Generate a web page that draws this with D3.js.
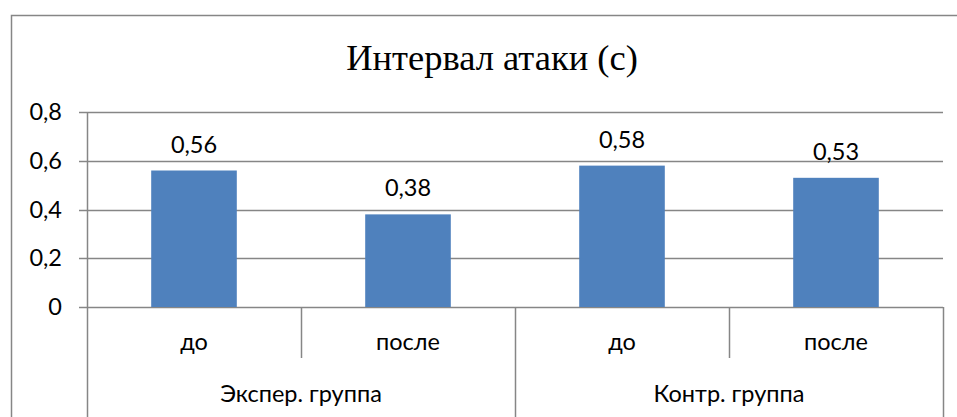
<!DOCTYPE html>
<html lang="ru">
<head>
  <meta charset="UTF-8" />
  <title>Интервал атаки (с)</title>
  <script src="https://d3js.org/d3.v7.min.js"></script>
  <style>
    body { margin: 0; background: #fff; }
    svg { display: block; }
    .tick-label, .val, .cat, .grp { font-family: Lato, "Open Sans", sans-serif; font-size: 23.5px; fill: #000; }
    .title { font-family: "Liberation Serif", "Times New Roman", serif; font-size: 36.5px; fill: #000; }
  </style>
</head>
<body>
<svg width="957" height="417"></svg>
<script>
// data
const groups = ["Экспер. группа", "Контр. группа"];
const phases = ["до", "после"];
const values = [0.56, 0.38, 0.58, 0.53];
const valueLabels = ["0,56", "0,38", "0,58", "0,53"];
const yTicks = [0, 0.2, 0.4, 0.6, 0.8];
const yTickLabels = ["0", "0,2", "0,4", "0,6", "0,8"];

const svg = d3.select("svg");
const grid = "#868686";

// chart frame (extends past right and bottom edge)
svg.append("rect")
  .attr("x", 11.5).attr("y", 15.5)
  .attr("width", 1000).attr("height", 500)
  .attr("fill", "none").attr("stroke", grid).attr("stroke-width", 1.5);

svg.append("text").attr("class", "title")
  .attr("x", 492).attr("y", 70)
  .attr("text-anchor", "middle")
  .text("Интервал атаки (с)");

const pLeft = 87, pRight = 943, pTop = 112, pBottom = 307;

const cats = [];
groups.forEach(g => phases.forEach(p => cats.push(g + "|" + p)));

const x = d3.scaleBand().domain(cats).range([pLeft, pRight]).paddingInner(0);
const y = d3.scaleLinear().domain([0, 0.8]).range([pBottom, pTop]);

// gridlines + y ticks
svg.append("g").selectAll("line")
  .data(yTicks).enter().append("line")
  .attr("x1", pLeft - 8).attr("x2", pRight)
  .attr("y1", d => Math.round(y(d)) + 0.5).attr("y2", d => Math.round(y(d)) + 0.5)
  .attr("stroke", grid).attr("stroke-width", 1.5);

svg.append("g").selectAll("text")
  .data(yTicks).enter().append("text")
  .attr("class", "tick-label")
  .attr("x", 62).attr("y", d => y(d) + 8)
  .attr("text-anchor", "end")
  .text((d, i) => yTickLabels[i]);

// y axis line
svg.append("line")
  .attr("x1", pLeft + 0.5).attr("x2", pLeft + 0.5)
  .attr("y1", pTop).attr("y2", 417)
  .attr("stroke", grid).attr("stroke-width", 1.5);

// bars
const bw = x.bandwidth() * 0.4;
svg.append("g").selectAll("rect")
  .data(values).enter().append("rect")
  .attr("x", (d, i) => x(cats[i]) + (x.bandwidth() - bw) / 2)
  .attr("width", bw)
  .attr("y", d => y(d))
  .attr("height", d => pBottom - y(d))
  .attr("fill", "#4F81BD");

svg.append("g").selectAll("text")
  .data(values).enter().append("text")
  .attr("class", "val")
  .attr("x", (d, i) => x(cats[i]) + x.bandwidth() / 2)
  .attr("y", d => y(d) - 18)
  .attr("text-anchor", "middle")
  .text((d, i) => valueLabels[i]);

// category separators
cats.forEach((c, i) => {
  if (i === 0) return;
  const isGroup = i % phases.length === 0;
  svg.append("line")
    .attr("x1", x(c) + 0.5).attr("x2", x(c) + 0.5)
    .attr("y1", pBottom).attr("y2", isGroup ? 417 : 358)
    .attr("stroke", grid).attr("stroke-width", 1.5);
});
svg.append("line")
  .attr("x1", pRight + 0.5).attr("x2", pRight + 0.5)
  .attr("y1", pBottom).attr("y2", 417)
  .attr("stroke", grid).attr("stroke-width", 1.5);

// phase labels
svg.append("g").selectAll("text")
  .data(cats).enter().append("text")
  .attr("class", "cat")
  .attr("x", d => x(d) + x.bandwidth() / 2)
  .attr("y", 350)
  .attr("text-anchor", "middle")
  .text(d => d.split("|")[1]);

// group labels
svg.append("g").selectAll("text")
  .data(groups).enter().append("text")
  .attr("class", "grp")
  .attr("x", (g, i) => x(cats[i * phases.length]) + x.bandwidth())
  .attr("y", 402)
  .attr("text-anchor", "middle")
  .text(d => d);
</script>
</body>
</html>
